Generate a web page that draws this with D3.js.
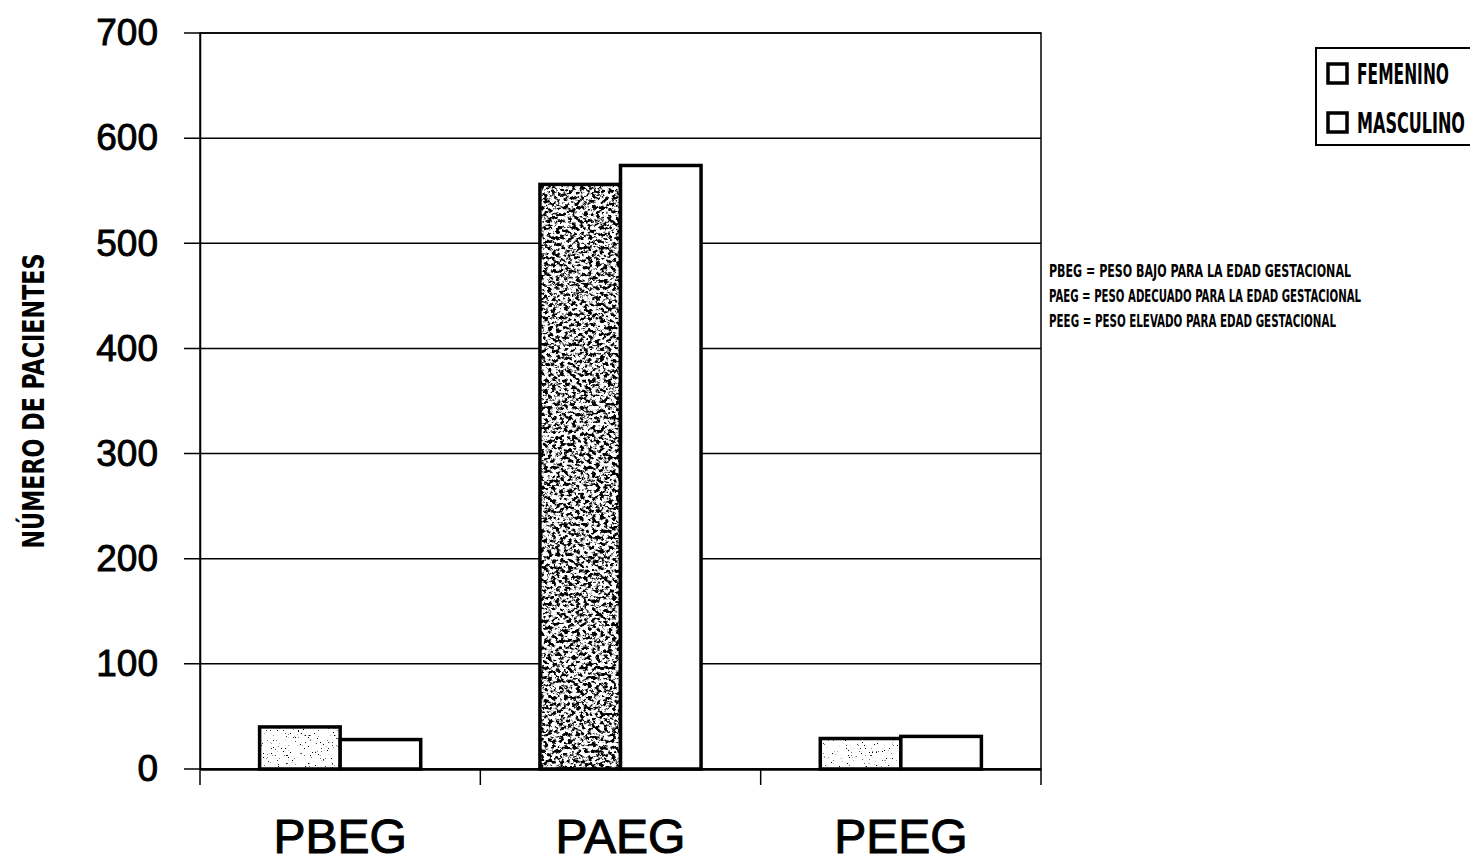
<!DOCTYPE html>
<html lang="es">
<head>
<meta charset="UTF-8">
<title>Pacientes por peso para la edad gestacional</title>
<script src="https://cdn.jsdelivr.net/npm/d3@7"></script>
<style>
  body { margin: 0; background: #fff; }
  svg { display: block; }
  .narrow { font-family: "Liberation Sans Narrow", "DejaVu Sans Condensed", sans-serif; font-weight: bold; }
  .tick text { font-family: "Liberation Sans", Arial, sans-serif; }
</style>
</head>
<body>
<div id="chart"></div>
<script>
// chart values
const categories = ["PBEG", "PAEG", "PEEG"];
const series = ["FEMENINO", "MASCULINO"];
const femenino = [40, 556, 29];
const masculino = [28, 574, 31];
const yTicks = [0, 100, 200, 300, 400, 500, 600, 700];
const notes = [
  "PBEG = PESO  BAJO PARA LA EDAD GESTACIONAL",
  "PAEG = PESO ADECUADO PARA LA EDAD GESTACIONAL",
  "PEEG = PESO  ELEVADO PARA EDAD GESTACIONAL"
];

let width = 1470;
let height = 866;
let plot = { left: 200, right: 1041, top: 33, bottom: 769 };

let svg = d3.select("#chart")
  .append("svg")
  .attr("width", width)
  .attr("height", height);

// speckle textures for the femenino bars
let defs = svg.append("defs");
function speckle(id, freq, octaves, slope, offset) {
  let f = defs.append("filter").attr("id", id)
    .attr("x", 0).attr("y", 0).attr("width", 1).attr("height", 1);
  f.append("feTurbulence").attr("type", "fractalNoise")
    .attr("baseFrequency", freq).attr("numOctaves", octaves).attr("seed", 7).attr("result", "noise");
  f.append("feColorMatrix").attr("in", "noise").attr("type", "matrix")
    .attr("values", `0 0 0 0 0  0 0 0 0 0  0 0 0 0 0  ${slope} 0 0 0 ${offset}`)
    .attr("result", "dots");
  f.append("feComposite").attr("in", "dots").attr("in2", "SourceAlpha").attr("operator", "in");
}
speckle("speckLight", 0.6, 3, -14, 4.3);
speckle("speckDark", "0.25 0.3", 5, -7, 3.75);

let x = d3.scaleBand()
  .domain(categories)
  .range([plot.left, plot.right]);

let xInner = d3.scaleBand()
  .domain(series)
  .range([0, x.bandwidth()])
  .paddingOuter(0.74);

let y = d3.scaleLinear()
  .domain([0, 700])
  .range([plot.bottom, plot.top]);

// gridlines
svg.append("g")
  .selectAll("line")
  .data(yTicks)
  .join("line")
  .attr("x1", plot.left - 16)
  .attr("x2", plot.right)
  .attr("y1", d => y(d))
  .attr("y2", d => y(d))
  .attr("stroke", "#000")
  .attr("stroke-width", 1.5);

// plot frame
svg.append("rect")
  .attr("x", plot.left)
  .attr("y", plot.top)
  .attr("width", plot.right - plot.left)
  .attr("height", plot.bottom - plot.top)
  .attr("fill", "none")
  .attr("stroke", "#000")
  .attr("stroke-width", 1.5);

// y axis
let yAxis = d3.axisLeft(y)
  .tickValues(yTicks)
  .tickSize(0)
  .tickPadding(42);

svg.append("g")
  .attr("transform", `translate(${plot.left}, 0)`)
  .call(yAxis)
  .call(g => g.select(".domain").attr("stroke-width", 1.5))
  .call(g => g.selectAll(".tick text")
    .attr("font-size", 37).attr("fill", "#000")
    .attr("stroke", "#000").attr("stroke-width", 0.9));

// x axis, ticks sit on category boundaries
svg.append("g")
  .selectAll("line")
  .data([...categories.map(c => x(c)), plot.right])
  .join("line")
  .attr("x1", d => d)
  .attr("x2", d => d)
  .attr("y1", plot.bottom)
  .attr("y2", plot.bottom + 16)
  .attr("stroke", "#000")
  .attr("stroke-width", 1.5);

let xAxis = d3.axisBottom(x).tickSize(0).tickPadding(50);
svg.append("g")
  .attr("transform", `translate(0, ${plot.bottom})`)
  .call(xAxis)
  .call(g => g.select(".domain").attr("stroke-width", 2.5))
  .call(g => g.selectAll(".tick text")
    .attr("font-size", 48).attr("fill", "#000")
    .attr("stroke", "#000").attr("stroke-width", 1));

// bars
let rows = categories.map((c, i) => ({ cat: c, FEMENINO: femenino[i], MASCULINO: masculino[i] }));

let groups = svg.append("g")
  .selectAll("g")
  .data(rows)
  .join("g")
  .attr("transform", d => `translate(${x(d.cat)}, 0)`);

let bars = groups.selectAll("g")
  .data(d => series.map(s => ({ cat: d.cat, key: s, value: d[s] })))
  .join("g");

bars.append("rect")
  .attr("x", d => xInner(d.key))
  .attr("y", d => y(d.value))
  .attr("width", xInner.bandwidth())
  .attr("height", d => y(0) - y(d.value))
  .attr("fill", "#fff");

bars.filter(d => d.key === "FEMENINO")
  .append("rect")
  .attr("x", d => xInner(d.key))
  .attr("y", d => y(d.value))
  .attr("width", xInner.bandwidth())
  .attr("height", d => y(0) - y(d.value))
  .attr("fill", "#000")
  .attr("filter", d => d.cat === "PAEG" ? "url(#speckDark)" : "url(#speckLight)");

bars.append("rect")
  .attr("x", d => xInner(d.key))
  .attr("y", d => y(d.value))
  .attr("width", xInner.bandwidth())
  .attr("height", d => y(0) - y(d.value))
  .attr("fill", "none")
  .attr("stroke", "#000")
  .attr("stroke-width", 3.5);

// y axis title
svg.append("text")
  .attr("class", "narrow")
  .attr("transform", "translate(44, 401) rotate(-90)")
  .attr("text-anchor", "middle")
  .attr("font-size", 30)
  .attr("textLength", 295)
  .attr("lengthAdjust", "spacingAndGlyphs")
  .text("NÚMERO DE PACIENTES");

// legend
let legend = svg.append("g").attr("transform", "translate(1316, 48)");
legend.append("rect")
  .attr("width", 180)
  .attr("height", 97)
  .attr("fill", "#fff")
  .attr("stroke", "#000")
  .attr("stroke-width", 2);

let legendWidths = { FEMENINO: 92, MASCULINO: 108 };
let item = legend.selectAll("g.item")
  .data(series)
  .join("g")
  .attr("class", "item")
  .attr("transform", (d, i) => `translate(0, ${26 + i * 49})`);

item.append("rect")
  .attr("x", 12)
  .attr("y", -10)
  .attr("width", 19)
  .attr("height", 19)
  .attr("fill", "#fff")
  .attr("stroke", "#000")
  .attr("stroke-width", 3.5);

item.append("text")
  .attr("class", "narrow")
  .attr("x", 41)
  .attr("y", 10)
  .attr("font-size", 28)
  .attr("textLength", d => legendWidths[d])
  .attr("lengthAdjust", "spacingAndGlyphs")
  .text(d => d);

// abbreviation notes
let noteWidths = [302, 312, 287];
svg.append("g")
  .selectAll("text")
  .data(notes)
  .join("text")
  .attr("class", "narrow")
  .attr("x", 1049)
  .attr("y", (d, i) => 277 + i * 25)
  .attr("font-size", 17)
  .attr("textLength", (d, i) => noteWidths[i])
  .attr("lengthAdjust", "spacingAndGlyphs")
  .text(d => d);
</script>
</body>
</html>
